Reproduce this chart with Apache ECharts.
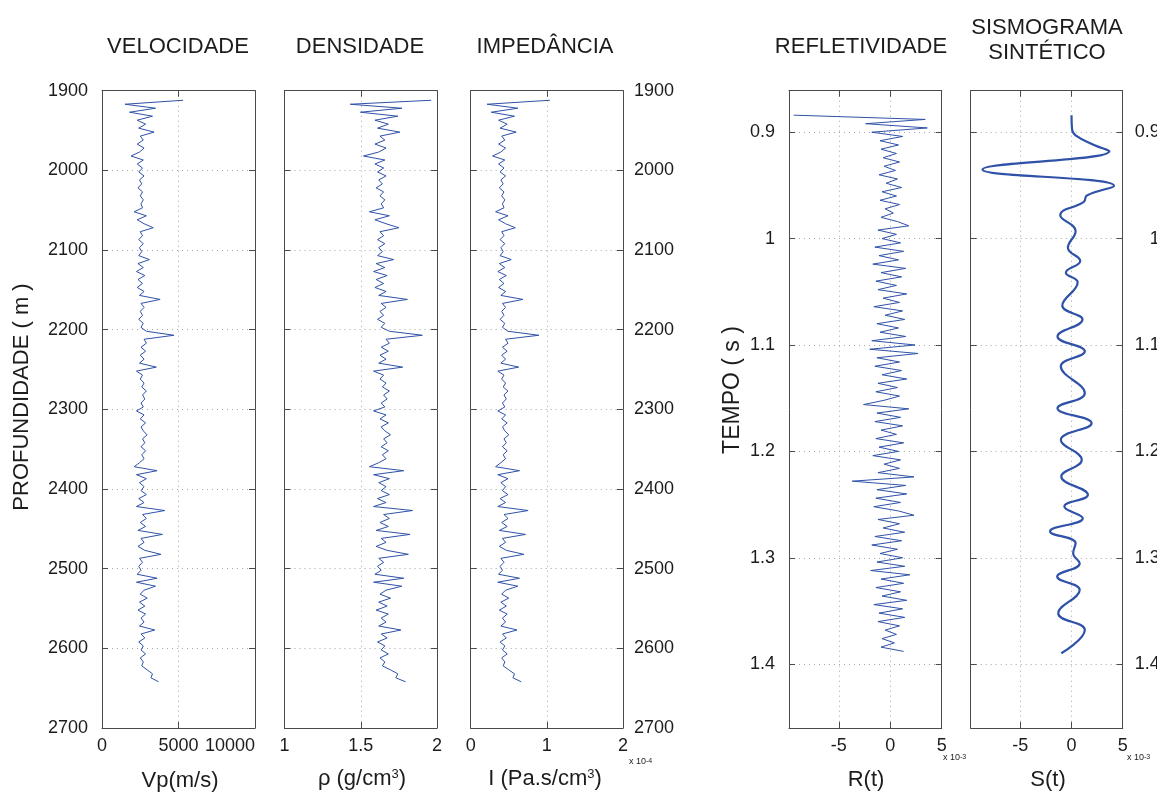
<!DOCTYPE html>
<html><head><meta charset="utf-8">
<script src="https://cdn.jsdelivr.net/npm/echarts@6/dist/echarts.min.js"></script>
<style>html,body{margin:0;padding:0;background:#fff}#c{width:1157px;height:796px}</style>
</head><body><div id="c"></div>
<script>
// ---------------- DATA ----------------
const depthStart = 1912, depthStep = 5; // m (sampling grid of the logs)
const vp = [5300,1500,3500,1800,3300,2300,2850,2400,3400,2500,
 2700,2300,2750,2450,1900,2700,2300,2650,2400,2750,
 2450,2600,2350,2650,2500,2700,2550,2650,2100,2900,
 2300,2750,3350,2500,2650,2400,2700,2450,2600,2400,
 3100,2350,2700,2250,2800,2350,2650,2300,2750,2450,
 3800,2550,2750,2500,2650,2400,2700,2550,2900,4700,
 2750,2900,2550,2850,2500,2750,2450,3550,2250,2650,
 2500,2750,2600,2900,2650,2800,2550,2700,2250,2750,
 2500,2850,2550,2700,2950,2650,2800,2550,2850,2600,
 2750,2450,2100,3600,2250,2900,2450,2750,2550,2900,
 2400,2750,2250,4100,2650,2900,2500,2850,2350,3950,
 2550,2750,2350,2800,3850,2450,2650,2400,2550,2300,
 3600,2250,3500,2750,2500,2950,2450,2800,2350,2850,
 2550,2750,2450,3450,2550,2800,2400,2700,2550,2850,
 2500,2700,2600,2950,3300,3200,3700];
const rho = [1.962,1.431,1.769,1.498,1.743,1.593,1.681,1.610,1.756,1.626,
 1.658,1.593,1.666,1.618,1.518,1.658,1.593,1.650,1.610,1.666,
 1.618,1.642,1.601,1.650,1.626,1.658,1.634,1.650,1.557,1.688,
 1.593,1.666,1.750,1.626,1.650,1.610,1.658,1.618,1.642,1.610,
 1.716,1.601,1.658,1.584,1.673,1.601,1.650,1.593,1.666,1.618,
 1.806,1.634,1.666,1.626,1.650,1.610,1.658,1.634,1.688,1.904,
 1.666,1.688,1.634,1.681,1.626,1.666,1.618,1.775,1.584,1.650,
 1.626,1.666,1.642,1.688,1.650,1.673,1.634,1.658,1.584,1.666,
 1.626,1.681,1.634,1.658,1.695,1.650,1.673,1.634,1.681,1.642,
 1.666,1.618,1.557,1.782,1.584,1.688,1.618,1.666,1.634,1.688,
 1.610,1.666,1.584,1.840,1.650,1.688,1.626,1.681,1.601,1.823,
 1.634,1.666,1.601,1.673,1.812,1.618,1.650,1.610,1.634,1.593,
 1.782,1.584,1.769,1.666,1.626,1.695,1.618,1.673,1.601,1.681,
 1.634,1.666,1.618,1.763,1.634,1.673,1.610,1.658,1.634,1.681,
 1.626,1.658,1.642,1.695,1.743,1.730,1.794];
const imp = [1.040,0.215,0.619,0.270,0.575,0.366,0.479,0.386,0.597,0.407,
 0.448,0.366,0.458,0.396,0.288,0.448,0.366,0.437,0.386,0.458,
 0.396,0.427,0.376,0.437,0.407,0.448,0.417,0.437,0.327,0.490,
 0.366,0.458,0.586,0.407,0.437,0.386,0.448,0.396,0.427,0.386,
 0.532,0.376,0.448,0.356,0.468,0.376,0.437,0.366,0.458,0.396,
 0.686,0.417,0.458,0.407,0.437,0.386,0.448,0.417,0.490,0.895,
 0.458,0.490,0.417,0.479,0.407,0.458,0.396,0.630,0.356,0.437,
 0.407,0.458,0.427,0.490,0.437,0.468,0.417,0.448,0.356,0.458,
 0.407,0.479,0.417,0.448,0.500,0.437,0.468,0.417,0.479,0.427,
 0.458,0.396,0.327,0.641,0.356,0.490,0.396,0.458,0.417,0.490,
 0.386,0.458,0.356,0.754,0.437,0.490,0.407,0.479,0.376,0.720,
 0.417,0.458,0.376,0.468,0.698,0.396,0.437,0.386,0.417,0.366,
 0.641,0.356,0.619,0.458,0.407,0.500,0.396,0.468,0.376,0.479,
 0.417,0.458,0.396,0.608,0.417,0.468,0.386,0.448,0.417,0.479,
 0.407,0.448,0.427,0.500,0.575,0.554,0.664]; // x 10^4
const timeStart = 0.884, timeStep = 0.004; // s
const refl = [-9.4,3.4,-2.4,3.6,-1.8,1.2,-1.0,0.8,-0.9,0.6,
 -0.7,0.9,-0.6,0.5,-1.1,0.7,-0.4,1.1,-0.8,0.6,
 -1.0,0.9,-0.5,0.3,-0.9,0.7,1.8,-1.2,0.6,-0.8,
 1.0,-1.5,1.3,-1.1,0.8,-1.7,1.5,-0.9,1.1,-1.4,
 0.6,-1.2,1.6,-0.7,0.9,-1.6,1.2,-0.5,1.4,-1.3,
 0.8,-1.0,1.5,-1.8,2.4,-2.0,2.7,-1.3,0.9,-1.5,
 1.1,-0.8,1.6,-1.2,0.7,-1.4,0.9,-0.6,-2.6,1.8,
 -1.3,1.0,-1.5,1.2,-0.9,0.6,-1.4,1.3,-1.1,0.8,
 -1.7,1.0,-0.6,0.9,-1.2,2.3,-3.7,1.5,-1.3,1.6,
 -1.4,1.0,-1.6,0.8,2.3,-1.2,0.9,-0.7,1.4,-1.5,
 1.1,-1.8,0.7,-1.0,1.2,-1.3,1.4,-1.9,1.9,-0.9,
 1.3,-1.4,1.0,-0.8,1.6,-1.6,1.2,-1.1,1.4,-1.2,
 0.9,-0.5,0.6,-0.8,0.4,-0.9,1.3]; // x 10^-3
const synthAmp = [0,0.05,0.4,2.2,3.7,-8.7,4.15,1.5,1.2,-1.1,0.4,-0.35,0.85,-0.55,0.6,-0.9,1.07,-1.37,1.3,-1.05,
 1.3,-1.37,1.96,-1.04,1.0,-1.0,1.6,-0.7,1.1,-2.1,0.4,0.16,0.8,-1.4,0.8,-1.3,1.3,-1.0]; // x 10^-3
const synthTime = [0.884,0.897,0.903,0.912,0.918,0.935,0.9505,0.9595,0.9655,0.978,0.993,1.0085,1.021,1.032,1.041,1.063,1.076,1.092,1.106,1.12,
 1.1453,1.1594,1.1735,1.1892,1.208,1.2236,1.2408,1.2518,1.2628,1.2753,1.2863,1.2957,1.3052,1.3177,1.3303,1.3522,1.3679,1.3898];

const depthTicks = [1900,2000,2100,2200,2300,2400,2500,2600,2700];
const timeTicks = [0.9,1.0,1.1,1.2,1.3,1.4];
const vpTicks = [0,5000,10000];
const rhoTicks = [1,1.5,2];
const impTicks = [0,1,2];
const ampTicks = [-5,0,5];
const panelTitles = ['VELOCIDADE','DENSIDADE','IMPEDÂNCIA','REFLETIVIDADE','SISMOGRAMA\nSINTÉTICO'];

// ---------------- CHART ----------------
const FONT = '"Liberation Sans", Arial, Helvetica, sans-serif';
const AX = '#4a4a4a', TXT = '#1c1c1c', LINE = '#2f52a8', GRIDC = '#a6a6a6';
const TOP = 90.7, H = 637.3;
const fmt = v => String(+(+v).toFixed(3));

const depthData = arr => arr.map((v, i) => [v, depthStart + i * depthStep]);
const timeData = arr => arr.map((v, i) => [v, +(timeStart + i * timeStep).toFixed(4)]);

const panels = [
  {left:102, width:153, xmin:0, xmax:10000, xt:vpTicks, ymin:1900, ymax:2700, yt:depthTicks, data:depthData(vp), leftLab:true, rightLab:false, lw:1, alignMax:'right'},
  {left:284.5, width:152.5, xmin:1, xmax:2, xt:rhoTicks, ymin:1900, ymax:2700, yt:depthTicks, data:depthData(rho), leftLab:false, rightLab:false, lw:1},
  {left:470.7, width:152.3, xmin:0, xmax:2, xt:impTicks, ymin:1900, ymax:2700, yt:depthTicks, data:depthData(imp), leftLab:false, rightLab:true, lw:1, rMargin:11, rAlign:'left'},
  {left:789, width:152.7, xmin:-9.85, xmax:5, xt:ampTicks, ymin:0.861, ymax:1.46, yt:timeTicks, data:timeData(refl), leftLab:true, rightLab:false, lw:1},
  {left:970.7, width:152, xmin:-9.85, xmax:5, xt:ampTicks, ymin:0.861, ymax:1.46, yt:timeTicks, data:synthAmp.map((a,i)=>[a, synthTime[i]]), leftLab:false, rightLab:true, lw:2.2, smooth:0.45, rMargin:37, rAlign:'right'}
];

const grid = [], xAxis = [], yAxis = [], series = [];
const tickBase = {show:true, inside:true, length:6, lineStyle:{color:AX, width:1}};
const labBase = {color:TXT, fontSize:18, fontFamily:FONT, formatter: fmt};
const split = {show:true, lineStyle:{color:GRIDC, type:[1,4], width:1}};
panels.forEach((p, i) => {
  grid.push({left:p.left, top:TOP, width:p.width, height:H, containLabel:false, outerBoundsMode:'none'});
});
panels.forEach((p, i) => {
  const lab = Object.assign({customValues:p.xt, margin:9}, labBase);
  if (p.alignMax) lab.alignMaxLabel = p.alignMax;
  xAxis.push({type:'value', gridIndex:i, position:'bottom', min:p.xmin, max:p.xmax,
    axisLine:{show:true, onZero:false, lineStyle:{color:AX, width:1}},
    axisTick:Object.assign({customValues:p.xt}, tickBase),
    axisLabel:lab,
    splitLine:split});
});
panels.forEach((p, i) => {
  xAxis.push({type:'value', gridIndex:i, position:'top', min:p.xmin, max:p.xmax,
    axisLine:{show:true, onZero:false, lineStyle:{color:AX, width:1}},
    axisTick:Object.assign({customValues:p.xt}, tickBase),
    axisLabel:{show:false}, splitLine:{show:false}});
});
panels.forEach((p, i) => {
  yAxis.push({type:'value', gridIndex:i, position:'left', inverse:true, min:p.ymin, max:p.ymax,
    axisLine:{show:true, onZero:false, lineStyle:{color:AX, width:1}},
    axisTick:Object.assign({customValues:p.yt}, tickBase),
    axisLabel:Object.assign({show:p.leftLab, customValues:p.yt, margin:14}, labBase),
    splitLine:split});
});
panels.forEach((p, i) => {
  yAxis.push({type:'value', gridIndex:i, position:'right', inverse:true, min:p.ymin, max:p.ymax,
    axisLine:{show:true, onZero:false, lineStyle:{color:AX, width:1}},
    axisTick:Object.assign({customValues:p.yt}, tickBase),
    axisLabel:Object.assign({show:p.rightLab, customValues:p.yt, margin:p.rMargin || 11, align:p.rAlign || 'left'}, labBase),
    splitLine:{show:false}});
});
panels.forEach((p, i) => {
  series.push({type:'line', xAxisIndex:i, yAxisIndex:i, data:p.data, showSymbol:false, symbol:'none',
    smooth:p.smooth || false, clip:true, silent:true,
    lineStyle:{color:LINE, width:p.lw}});
});

const T = (x, y, text, size, extra) => Object.assign({type:'text', x, y, silent:true,
  style:{text, fill:TXT, fontSize:size, fontFamily:FONT, align:'center', verticalAlign:'middle', lineHeight:25}}, extra || {});
const R = (x, y, text, rich, align) => ({type:'text', x, y, silent:true,
  style:{text, fill:TXT, fontFamily:FONT, align:align || 'center', verticalAlign:'middle', rich}});
const supRich = {n:{fontSize:22, fontFamily:FONT, color:TXT, verticalAlign:'middle'}, s:{fontSize:13, fontFamily:FONT, color:TXT, verticalAlign:'top'}};
const expRich = {a:{fontSize:9, fontFamily:FONT, color:TXT, verticalAlign:'bottom'}, b:{fontSize:7, fontFamily:FONT, color:TXT, verticalAlign:'top'}};

const graphic = [
  T(178, 47, panelTitles[0], 22),
  T(360, 47, panelTitles[1], 22),
  T(545, 47, panelTitles[2], 22),
  T(861, 47, panelTitles[3], 22),
  T(1047, 40, panelTitles[4], 22),
  T(22, 397, 'PROFUNDIDADE ( m )', 22, {rotation: Math.PI/2}),
  T(733, 390, 'TEMPO ( s )', 23, {rotation: Math.PI/2}),
  T(180, 781, 'Vp(m/s)', 22),
  R(362, 779, '{n|ρ (g/cm}{s|3}{n|)}', supRich),
  R(545, 779, '{n|I (Pa.s/cm}{s|3}{n|)}', supRich),
  T(866, 780, 'R(t)', 22),
  T(1048, 780, 'S(t)', 22),
  R(629, 762, '{a|x 10}{b|-4}', expRich, 'left'),
  R(943, 758, '{a|x 10}{b|-3}', expRich, 'left'),
  R(1127, 758, '{a|x 10}{b|-3}', expRich, 'left')
];

const chart = echarts.init(document.getElementById('c'), null, {renderer:'canvas'});
chart.setOption({backgroundColor:'#ffffff', animation:false, grid, xAxis, yAxis, series, graphic});
</script>
</body></html>
